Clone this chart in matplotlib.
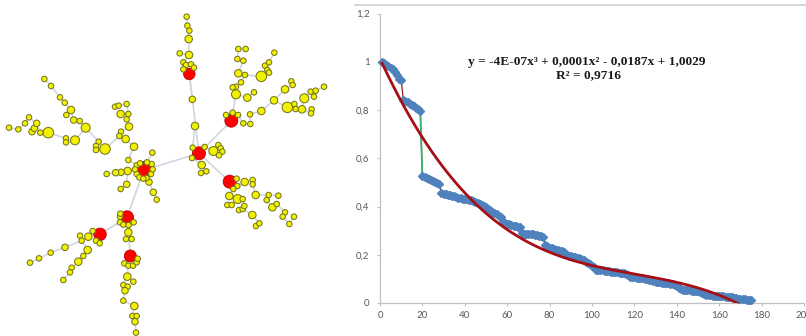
import numpy as np
import matplotlib
matplotlib.use("Agg")
import matplotlib.pyplot as plt
from matplotlib.lines import Line2D

# ---------------- network data (layout coordinates, 990 x 1008 canvas) ----------------
hub_x = [432, 597, 568, 694, 689, 381, 300, 391]
hub_y = [510, 460, 222, 362, 545, 652, 703, 768]
hub_d = [17, 13, 11.5, 13, 13, 13, 12.5, 12]          # diameters (px)
hub_links = [(0, 1), (1, 2), (1, 3), (1, 4), (0, 5), (5, 6), (5, 7)]

# yellow nodes per hub: (x, y, size class)
nodes_h0 = [
    (315, 447, 3), (296, 425, 1), (288, 438, 1), (288, 450, 1), (257, 383, 2.5), (239, 363, 1),
    (221, 360, 1.5), (213, 330, 2), (199, 345, 1), (194, 308, 1), (180, 292, 1), (153, 258, 1),
    (133, 237, 1), (225, 421, 2.5), (198, 415, 1), (198, 427, 1), (145, 398, 3), (121, 398, 1),
    (96, 395, 1.5), (103, 385, 1.5), (110, 370, 1.5), (87, 352, 1), (75, 370, 1), (55, 388, 1),
    (27, 383, 1),
    (345, 320, 1), (356, 317, 1), (380, 312, 1), (362, 342, 2), (385, 342, 1), (380, 358, 1),
    (387, 380, 2), (363, 395, 1), (358, 408, 1), (377, 417, 2), (402, 440, 2),
    (383, 513, 2), (363, 517, 1.5), (347, 518, 1.5), (320, 522, 1), (385, 480, 1),
    (380, 553, 1.5), (362, 567, 1), (457, 458, 1), (447, 546, 1.5), (460, 577, 1.5), (470, 599, 1),
    (410, 496, 1), (455, 492, 1), (410, 522, 1), (453, 522, 1), (418, 532, 1), (440, 534, 1),
    (420, 490, 1), (441, 487, 1), (430, 536, 1), (405, 508, 1), (458, 508, 1),
]
nodes_h1 = [
    (640, 453, 2.5), (655, 435, 1), (662, 445, 1), (667, 455, 1), (657, 466, 1),
    (605, 495, 2), (603, 519, 1), (619, 514, 1), (578, 443, 1), (614, 441, 1), (576, 474, 1),
    (585, 378, 2),
]
nodes_h2 = [
    (560, 50, 1), (562, 77, 1), (568, 92, 1), (566, 117, 2), (567, 165, 2), (539, 160, 1),
    (550, 187, 1), (558, 195, 1), (573, 193, 1), (582, 203, 1), (550, 208, 1), (577, 298, 1.5),
]
nodes_h3 = [
    (715, 147, 1), (737, 147, 1), (712, 177, 1), (730, 182, 1), (715, 220, 2), (735, 225, 1),
    (723, 247, 1), (708, 260, 1), (698, 262, 1), (708, 283, 2.5), (742, 293, 2), (762, 277, 1),
    (784, 229, 3), (795, 197, 1), (807, 187, 1), (802, 210, 1), (807, 218, 1), (823, 158, 1),
    (784, 333, 2), (822, 301, 2), (855, 268, 2), (874, 244, 1), (878, 255, 1), (862, 322, 3),
    (883, 312, 1), (887, 327, 1), (906, 328, 2), (913, 295, 2.5), (935, 328, 1), (933, 340, 1),
    (932, 275, 1), (947, 272, 1), (942, 290, 1), (972, 260, 1),
    (678, 345, 1), (698, 338, 1), (714, 345, 1), (730, 370, 1), (750, 343, 1), (751, 372, 1),
]
nodes_h4 = [
    (734, 546, 2), (758, 540, 1), (758, 553, 1), (688, 588, 2), (713, 597, 2.5), (728, 597, 1),
    (682, 615, 1), (695, 615, 1), (717, 630, 1), (728, 627, 1), (733, 618, 1), (767, 585, 2),
    (806, 585, 1), (800, 600, 1), (835, 587, 1), (817, 622, 2), (830, 612, 1), (855, 637, 1),
    (848, 650, 1), (882, 650, 1), (868, 672, 1), (757, 645, 2), (768, 678, 1), (778, 670, 1),
    (710, 536, 1), (712, 558, 1), (700, 567, 1),
]
nodes_h5 = [
    (360, 650, 1), (360, 667, 1), (370, 674, 1), (386, 675, 1), (401, 667, 1), (361, 641, 1),
    (385, 697, 2), (378, 717, 1), (395, 717, 1),
]
nodes_h6 = [
    (265, 710, 2), (240, 707, 1), (245, 722, 1), (278, 693, 1), (288, 722, 1), (299, 730, 1),
    (195, 742, 1.5), (152, 758, 1), (117, 775, 1), (90, 788, 1), (263, 750, 2), (235, 785, 2),
    (250, 768, 1), (215, 803, 1), (210, 817, 1), (190, 840, 1),
]
nodes_h7 = [
    (373, 790, 1), (385, 797, 1), (399, 797, 1), (410, 787, 1), (413, 776, 1),
    (382, 830, 2), (400, 845, 1), (370, 855, 1), (383, 860, 1), (375, 872, 1.5), (370, 902, 1),
    (403, 918, 2), (397, 948, 1), (410, 948, 1), (405, 965, 1.5), (408, 998, 1),
]
groups = [nodes_h0, nodes_h1, nodes_h2, nodes_h3, nodes_h4, nodes_h5, nodes_h6, nodes_h7]
size_px = {1: 5.5, 1.5: 6.5, 2: 7.5, 2.5: 9, 3: 10.5}

# ---------------- chart data ----------------
y_values = [
    1.000, 0.995, 0.988, 0.982, 0.975, 0.968, 0.958, 0.945, 0.930, 0.925,
    0.842, 0.838, 0.832, 0.826, 0.822, 0.816, 0.810, 0.803, 0.796,
    0.525, 0.522, 0.518, 0.513, 0.508, 0.505, 0.502, 0.498, 0.492,
    0.457, 0.452, 0.450, 0.448, 0.446, 0.444, 0.442, 0.439, 0.436, 0.434, 0.432, 0.431,
    0.430, 0.428, 0.426, 0.423, 0.419, 0.414, 0.410, 0.406, 0.401, 0.397,
    0.391, 0.385, 0.379, 0.373, 0.368, 0.362, 0.358,
    0.337, 0.333, 0.329, 0.326, 0.322, 0.320, 0.318, 0.316, 0.314,
    0.289, 0.288, 0.287, 0.286, 0.285, 0.284, 0.283, 0.281, 0.279, 0.277, 0.274,
    0.242, 0.236, 0.230, 0.226, 0.223, 0.221, 0.219, 0.217, 0.215, 0.210, 0.200, 0.195, 0.193,
    0.191, 0.189, 0.187, 0.185, 0.182, 0.177, 0.170, 0.165, 0.160, 0.155, 0.151,
    0.138, 0.137, 0.136, 0.135, 0.134, 0.132, 0.131, 0.130, 0.129, 0.128, 0.127, 0.125, 0.124,
    0.123, 0.121, 0.118,
    0.109, 0.108, 0.106, 0.105, 0.104, 0.103, 0.102, 0.100, 0.098, 0.096, 0.094, 0.091, 0.088,
    0.086, 0.085, 0.084, 0.083, 0.082, 0.081, 0.080, 0.077, 0.073, 0.070, 0.064, 0.058,
    0.055, 0.054, 0.053, 0.052, 0.051, 0.050, 0.049, 0.048, 0.047, 0.042, 0.036,
    0.034, 0.033, 0.032, 0.031, 0.030, 0.029, 0.028, 0.027, 0.027, 0.026, 0.026, 0.025,
    0.024, 0.022, 0.019, 0.016, 0.015, 0.015, 0.015, 0.014, 0.014, 0.014,
]
x_values = list(range(1, len(y_values) + 1))
green_segment = (19, 20)          # x of the two points joined by the green line
x_ticks = [0, 20, 40, 60, 80, 100, 120, 140, 160, 180, 200]
y_ticks = [0, 0.2, 0.4, 0.6, 0.8, 1.0, 1.2]
y_tick_labels = ["0", "0,2", "0,4", "0,6", "0,8", "1", "1,2"]
equation_lines = ["y = -4E-07x³ + 0,0001x² - 0,0187x + 1,0029", "R² = 0,9716"]

# ---------------- figure ----------------
W, H = 806, 336
fig = plt.figure(figsize=(W / 100, H / 100), dpi=100)
fig.patch.set_facecolor("white")

# ---- network panel ----
axn = fig.add_axes([0, 0, 330 / W, 1])
axn.set_xlim(0, 990)
axn.set_ylim(1008, 0)
axn.axis("off")

edge_kw = dict(color="#d4d4df", lw=1.2, zorder=1, solid_capstyle="round")
for a, b in hub_links:
    axn.plot([hub_x[a], hub_x[b]], [hub_y[a], hub_y[b]], **edge_kw)

for gi, nodes in enumerate(groups):
    hx, hy = hub_x[gi], hub_y[gi]
    pts = np.array([(p[0], p[1]) for p in nodes], dtype=float)
    dist_hub = np.hypot(pts[:, 0] - hx, pts[:, 1] - hy)
    for i in range(len(pts)):
        cand_x = [hx]
        cand_y = [hy]
        for j in range(len(pts)):
            if dist_hub[j] < dist_hub[i] - 1e-9:
                cand_x.append(pts[j, 0])
                cand_y.append(pts[j, 1])
        cand_x = np.array(cand_x)
        cand_y = np.array(cand_y)
        k = np.argmin(np.hypot(cand_x - pts[i, 0], cand_y - pts[i, 1]))
        axn.plot([pts[i, 0], cand_x[k]], [pts[i, 1], cand_y[k]], **edge_kw)

hub_s = [(d * 0.72) ** 2 for d in hub_d]
axn.scatter(hub_x, hub_y, s=hub_s, c="#ff0000", edgecolors="#c00000", linewidths=0.6, zorder=2)
for nodes in groups:
    xs = [p[0] for p in nodes]
    ys = [p[1] for p in nodes]
    ss = [(size_px[p[2]] * 0.72) ** 2 for p in nodes]
    axn.scatter(xs, ys, s=ss, c="#f2f200", edgecolors="#76761c", linewidths=0.75, zorder=3)

# ---- chart panel ----
x0_px, x1_px = 380, 804
y0_px, y1_px = 303, 13.5
ax = fig.add_axes([x0_px / W, (H - y0_px) / H, (x1_px - x0_px) / W, (y0_px - y1_px) / H])
ax.set_xlim(0, 200)
ax.set_ylim(0, 1.2)
for s in ["top", "right"]:
    ax.spines[s].set_visible(False)
for s in ["left", "bottom"]:
    ax.spines[s].set_color("#c0c0c0")
    ax.spines[s].set_linewidth(0.9)
ax.set_xticks(x_ticks)
ax.set_xticklabels([str(t) for t in x_ticks])
ax.set_yticks(y_ticks)
ax.set_yticklabels(y_tick_labels)
ax.tick_params(axis="both", direction="out", length=2.5, width=0.8, color="#c0c0c0",
               labelsize=7, labelcolor="#595959")
ax.tick_params(axis="y", pad=5)
ax.tick_params(axis="x", pad=3)
for lab in ax.get_xticklabels() + ax.get_yticklabels():
    lab.set_fontfamily(["Lato", "DejaVu Sans"])

# series: dark red connecting line with blue diamond markers
ax.plot(x_values, y_values, color="#8b1a2b", lw=0.9, zorder=2)
ax.plot(x_values, y_values, linestyle="none", marker="D", markersize=3.9,
        markerfacecolor="#4f81bd", markeredgecolor="#4f81bd", zorder=3, clip_on=False)
gi0 = x_values.index(green_segment[0])
gi1 = x_values.index(green_segment[1])
ax.plot([x_values[gi0], x_values[gi1]], [y_values[gi0], y_values[gi1]],
        color="#3cb371", lw=1.3, zorder=2.5)

# cubic trend line fitted to the data
coef = np.polyfit(x_values, y_values, 3)
xt = np.linspace(x_values[0], x_values[-1], 400)
ax.plot(xt, np.polyval(coef, xt), color="#a50f15", lw=2.0, zorder=4)

fig.text(587 / W, 1 - 62 / H, equation_lines[0], ha="center", va="center",
         fontfamily="Liberation Serif", fontweight="bold", fontsize=9.6, color="#1a1a1a")
fig.text(588 / W, 1 - 75.5 / H, equation_lines[1], ha="center", va="center",
         fontfamily="Liberation Serif", fontweight="bold", fontsize=9.6, color="#1a1a1a")

# chart-area top border
fig.add_artist(Line2D([355 / W, 1], [1 - 5 / H, 1 - 5 / H], color="#d0d0d0", lw=1.2))

fig.savefig("out.png", dpi=100, facecolor="white")
